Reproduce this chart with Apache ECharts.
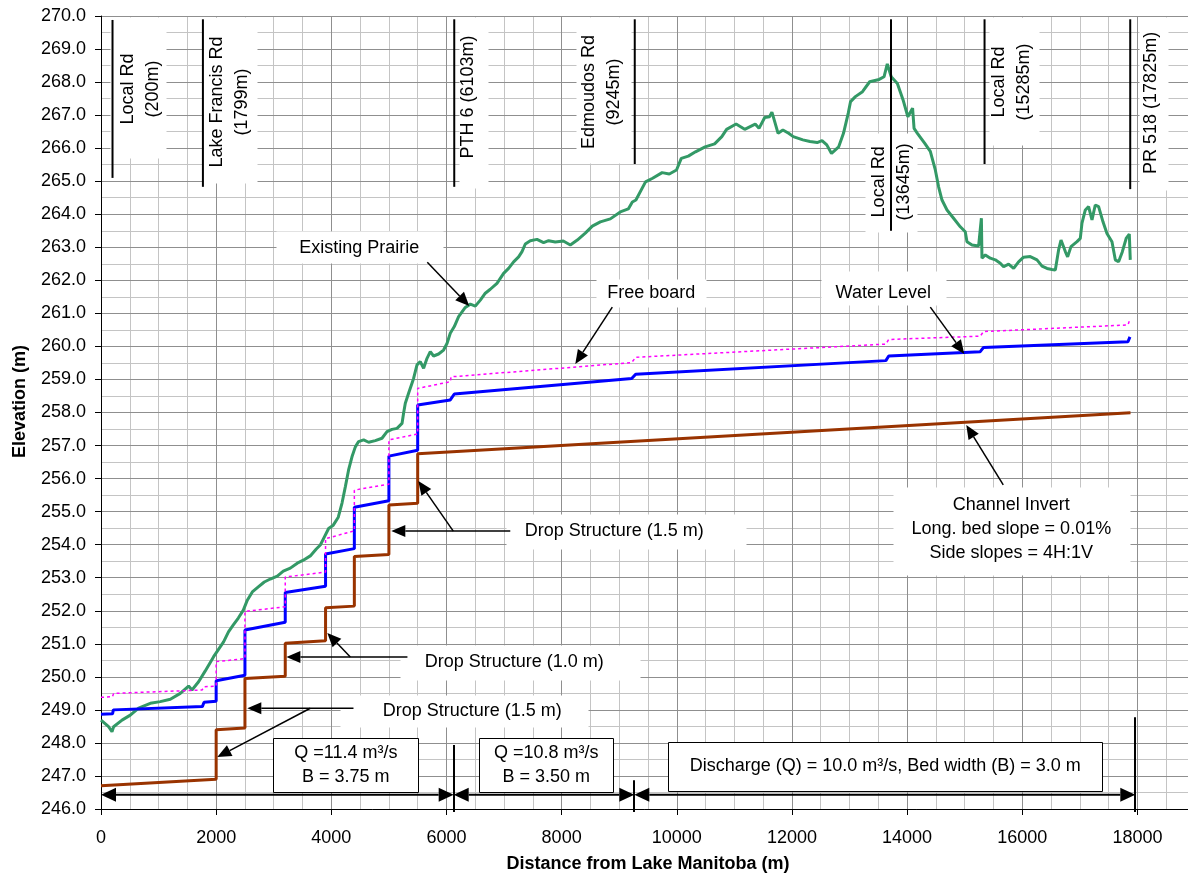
<!DOCTYPE html>
<html><head><meta charset="utf-8">
<script src="https://cdn.jsdelivr.net/npm/echarts@6/dist/echarts.min.js"></script>
<style>html,body{margin:0;padding:0;background:#fff}#c{width:1188px;height:877px}</style>
</head><body><div id="c"></div>
<script>
// ---------- data (distance m, elevation m) ----------
const prairie = [[0,248.69],[132,248.49],[191,248.34],[219,248.49],[365,248.69],[509,248.84],[653,249.05],[856,249.2],[1030,249.25],[1204,249.32],[1377,249.5],[1521,249.72],[1580,249.6],[1695,249.85],[1811,250.18],[1956,250.61],[2129,251.06],[2214,251.36],[2298,251.57],[2385,251.78],[2472,252.02],[2541,252.32],[2628,252.57],[2732,252.72],[2836,252.87],[2940,252.96],[3062,253.05],[3166,253.2],[3288,253.29],[3409,253.44],[3514,253.53],[3635,253.66],[3739,253.87],[3809,253.99],[3878,254.23],[3953,254.49],[4034,254.59],[4121,254.83],[4186,255.26],[4243,255.75],[4300,256.26],[4359,256.66],[4417,256.96],[4474,257.12],[4561,257.17],[4648,257.1],[4764,257.15],[4880,257.22],[4967,257.42],[5054,257.49],[5141,257.52],[5228,257.67],[5255,257.98],[5285,258.28],[5342,258.58],[5429,259.03],[5488,259.44],[5545,259.54],[5603,259.34],[5662,259.64],[5719,259.84],[5776,259.71],[5863,259.77],[5950,259.89],[6009,260.09],[6066,260.4],[6136,260.6],[6211,260.9],[6327,261.18],[6414,261.28],[6501,261.22],[6588,261.4],[6674,261.61],[6761,261.73],[6877,261.91],[6992,262.21],[7079,262.36],[7166,262.56],[7253,262.71],[7312,262.87],[7369,263.1],[7456,263.2],[7572,263.24],[7687,263.14],[7774,263.2],[7890,263.16],[8029,263.19],[8151,263.07],[8272,263.22],[8411,263.43],[8533,263.64],[8672,263.77],[8846,263.86],[9019,264.07],[9158,264.16],[9228,264.37],[9290,264.43],[9457,264.98],[9580,265.09],[9745,265.26],[9870,265.22],[9995,265.34],[10078,265.69],[10200,265.76],[10325,265.89],[10492,266.04],[10657,266.13],[10782,266.35],[10865,266.57],[11030,266.73],[11179,266.57],[11362,266.73],[11428,266.6],[11527,266.93],[11610,266.95],[11652,267.09],[11693,266.85],[11759,266.45],[11843,266.55],[11942,266.45],[12023,266.35],[12190,266.25],[12313,266.2],[12438,266.17],[12522,266.23],[12605,266.1],[12687,265.84],[12812,266.04],[12895,266.45],[12978,267.06],[13018,267.41],[13102,267.56],[13225,267.71],[13350,268.01],[13515,268.08],[13599,268.16],[13656,268.55],[13724,268.16],[13831,267.96],[13930,267.46],[14013,266.95],[14095,267.21],[14121,266.6],[14179,266.45],[14304,266.15],[14403,265.9],[14490,265.34],[14547,264.83],[14606,264.43],[14693,264.13],[14807,263.88],[14924,263.62],[15010,263.47],[15040,263.17],[15127,263.07],[15242,263.04],[15290,263.88],[15300,262.67],[15358,262.77],[15445,262.67],[15532,262.62],[15618,262.52],[15676,262.41],[15763,262.49],[15850,262.36],[15936,262.56],[16023,262.7],[16139,262.72],[16256,262.62],[16343,262.43],[16430,262.36],[16516,262.33],[16574,262.31],[16631,262.92],[16673,263.22],[16748,262.87],[16788,262.71],[16846,263.02],[16951,263.17],[17008,263.27],[17037,263.73],[17095,264.13],[17152,264.23],[17211,263.83],[17268,264.28],[17326,264.23],[17402,263.77],[17471,263.42],[17558,263.17],[17616,262.62],[17673,262.56],[17737,262.86],[17807,263.28],[17859,263.4],[17876,262.62]];
const channelInvert = [[0,246.7],[2000,246.9],[2000,248.4],[2500,248.45],[2500,249.95],[3200,250.02],[3200,251.02],[3900,251.09],[3900,252.09],[4400,252.14],[4400,253.64],[5000,253.7],[5000,255.2],[5500,255.25],[5500,256.75],[17880,257.99]];
const waterLevel = [[0,248.87],[200,248.88],[215,249.0],[1760,249.1],[1790,249.23],[2000,249.26],[2000,249.88],[2500,250.05],[2500,251.42],[3200,251.65],[3200,252.55],[3900,252.74],[3900,253.72],[4400,253.88],[4400,255.13],[5000,255.33],[5000,256.68],[5500,256.86],[5500,258.23],[6066,258.38],[6136,258.56],[9217,259.03],[9286,259.16],[13631,259.57],[13681,259.71],[15270,259.84],[15328,259.97],[17836,260.14],[17870,260.29]];
const freeBoard = [[0,249.38],[200,249.4],[219,249.5],[1754,249.6],[1790,249.7],[2000,249.72],[2000,250.46],[2500,250.55],[2500,251.98],[3200,252.12],[3200,253.02],[3900,253.17],[3900,254.18],[4400,254.42],[4400,255.65],[5000,255.83],[5000,257.17],[5500,257.35],[5500,258.73],[6066,258.93],[6080,259.08],[9217,259.51],[9286,259.67],[13631,260.07],[13681,260.21],[15270,260.31],[15328,260.45],[17836,260.65],[17870,260.82]];

// roads
const roadNames = ['Local Rd\n(200m)','Lake Francis Rd\n(1799m)','PTH 6 (6103m)','Edmoudos Rd\n(9245m)','Local Rd\n(13645m)','Local Rd\n(15285m)','PR 518 (17825m)'];
const roadX = [200,1770,6135,9270,13720,15345,17875];
const roadTop = [269.88,269.9,269.9,269.9,269.9,269.9,269.9];
const roadBottom = [265.1,264.83,264.83,265.52,263.5,265.52,264.76];
const roadLabelAt = [[685,267.79],[2228,267.4],[6379,267.55],[8689,267.7],[13724,264.98],[15809,268.0],[18241,267.37]];
const roadLabelBox = [[162,269.97,1134,265.7],[1777,269.97,2715,264.95],[6223,269.97,6726,264.79],[8255,269.97,9210,265.55],[13274,266.46,14177,263.46],[15427,269.97,16296,266.1],[18033,269.97,18537,264.73]];

// annotations: text, centre [m, elev], box [m1, e1, m2, e2], bordered
const noteTexts = ['Existing Prairie','Free board','Water Level','Channel Invert\nLong. bed slope = 0.01%\nSide slopes = 4H:1V','Drop Structure (1.5 m)','Drop Structure (1.0 m)','Drop Structure (1.5 m)','Q =11.4 m³/s\nB = 3.75 m','Q =10.8 m³/s\nB = 3.50 m','Discharge (Q) = 10.0 m³/s, Bed width (B) = 3.0 m'];
const noteAt = [[4486,262.98],[9557,261.62],[13586,261.62],[15810,254.48],[8915,254.41],[7177,250.45],[6449,248.96],[4252,247.33],[7734,247.33],[13621,247.29]];
const noteBox = [[3045,263.49,5947,262.52],[8602,262.04,10513,261.19],[12508,262.28,14682,261.25],[13761,255.74,17877,253.08],[7039,254.93,11207,253.87],[5198,250.96,9367,249.9],[4156,249.45,8463,248.48],[2993,248.15,5511,246.51],[6570,248.15,8897,246.51],[9852,248.03,17389,246.54]];
const noteBordered = [false,false,false,false,false,false,false,true,true,true];
// arrows: [from m, from elev, tip m, tip elev]
const noteArrows = [[5667,262.55,6396,261.22],[8880,261.19,8237,259.47],[14403,261.19,14993,259.77],[15670,255.81,15028,257.62],[7108,254.41,5042,254.41],[6118,254.41,5511,255.93],[5322,250.6,3220,250.6],[4330,250.6,3930,251.33],[4385,249.05,2541,249.05],[3635,249.05,2020,247.57]];
// bottom dimension lines
const dimY = 246.43;
const dimSpans = [[0,6125],[6125,9262],[9262,17963]];
const dimSeparators = [[6125,247.94],[9262,246.87],[17963,248.78]];
const dimSepBottom = 245.91;

const FONT = 'Liberation Sans, Arial, sans-serif';
const chart = echarts.init(document.getElementById('c'), null, {renderer:'canvas'});

const roadSeries = roadX.map((x,i)=>({
  type:'line', xAxisIndex:1, data:[[x,roadTop[i]],[x,roadBottom[i]]], symbol:'none', z:4,
  lineStyle:{color:'#000', width:2}, animation:false, silent:true
}));

const option = {
  animation:false,
  backgroundColor:'#fff',
  grid:{left:101, top:16, width:1094, height:793, outerBoundsMode:'none', containLabel:false},
  xAxis:[
    {type:'value', min:0, max:19000, interval:500, position:'bottom', z:0,
     axisLine:{show:false}, axisTick:{show:false}, axisLabel:{show:false},
     splitLine:{show:true, lineStyle:{color:'#c4c4c4', width:1}}},
    {type:'value', min:0, max:19000, interval:2000, position:'bottom', z:0.5,
     name:'Distance from Lake Manitoba (m)', nameLocation:'middle', nameGap:46,
     nameTextStyle:{fontFamily:FONT, fontSize:18, fontWeight:'bold', color:'#000'},
     axisLine:{show:true, onZero:false, lineStyle:{color:'#000', width:1}},
     axisTick:{show:true, inside:false, length:6, lineStyle:{color:'#000'}},
     axisLabel:{fontFamily:FONT, fontSize:18, color:'#000', margin:20, hideOverlap:false,
       formatter:v=> v>18000 ? '' : String(v)},
     splitLine:{show:true, lineStyle:{color:'#8f8f8f', width:1}}}
  ],
  yAxis:{type:'value', min:246, max:270, interval:1, z:0.5,
    name:'Elevation (m)', nameLocation:'middle', nameGap:72,
    nameTextStyle:{fontFamily:FONT, fontSize:18, fontWeight:'bold', color:'#000', padding:[0,0,0,22]},
    axisLine:{show:true, onZero:false, lineStyle:{color:'#000', width:1}},
    axisTick:{show:true, inside:false, length:6, lineStyle:{color:'#000'}},
    axisLabel:{fontFamily:FONT, fontSize:18, color:'#000', margin:15, formatter:v=>v.toFixed(1)},
    splitLine:{show:true, lineStyle:{color:'#8f8f8f', width:1}},
    minorTick:{show:false, splitNumber:2},
    minorSplitLine:{show:true, lineStyle:{color:'#c4c4c4', width:1}}},
  series:[
    {name:'Existing Prairie', type:'line', xAxisIndex:1, data:prairie, symbol:'none', z:2,
     lineStyle:{color:'#339966', width:3}, smooth:false},
    {name:'Channel Invert', type:'line', xAxisIndex:1, data:channelInvert, symbol:'none', z:2,
     lineStyle:{color:'#993300', width:3}},
    {name:'Water Level', type:'line', xAxisIndex:1, data:waterLevel, symbol:'none', z:2,
     lineStyle:{color:'#0000ff', width:3}},
    {name:'Free board', type:'line', xAxisIndex:1, data:freeBoard, symbol:'none', z:2,
     lineStyle:{color:'#ff00ff', width:1.5, type:[3,3]}}
  ].concat(roadSeries)
};
chart.setOption(option);

const P = (m,v)=>chart.convertToPixel({xAxisIndex:1, yAxisIndex:0}, [m,v]);
const g = [];
function addRect(b, stroke, z){
  const a=P(b[0],b[1]), c=P(b[2],b[3]);
  const x=Math.round(Math.min(a[0],c[0]))+0.5, y=Math.round(Math.min(a[1],c[1]))+0.5;
  const w=Math.round(Math.abs(c[0]-a[0])), h=Math.round(Math.abs(c[1]-a[1]));
  g.push({type:'rect', z, silent:true, shape:{x,y,width:w,height:h},
    style:{fill:'#fff', stroke: stroke ? '#000' : null, lineWidth: stroke ? 1 : 0}});
}
function addText(t, at, z, rot, lh){
  const p=P(at[0],at[1]);
  g.push({type:'text', z, silent:true, x:p[0], y:p[1], rotation:rot||0,
    style:{text:t, font:'18px '+FONT, fill:'#000', align:'center', verticalAlign:'middle',
      textAlign:'center', textVerticalAlign:'middle', lineHeight:lh||24}});
}
function addHead(tip, from, len, hw, z){
  const dx=tip[0]-from[0], dy=tip[1]-from[1], L=Math.hypot(dx,dy), ux=dx/L, uy=dy/L;
  const bx=tip[0]-ux*len, by=tip[1]-uy*len;
  g.push({type:'polygon', z, silent:true, shape:{points:[[tip[0],tip[1]],[bx-uy*hw,by+ux*hw],[bx+uy*hw,by-ux*hw]]}, style:{fill:'#000'}});
  return [bx,by];
}
function addLine(a,b,w,z){
  g.push({type:'line', z, silent:true, shape:{x1:a[0],y1:a[1],x2:b[0],y2:b[1]}, style:{stroke:'#000', lineWidth:w}});
}

// road label boxes and labels
roadLabelBox.forEach(b=>addRect(b,false,1));
roadNames.forEach((t,i)=>addText(t, roadLabelAt[i], 10, Math.PI/2, 25));

// annotation boxes and texts
noteBox.forEach((b,i)=>addRect(b,noteBordered[i],9));
noteTexts.forEach((t,i)=>addText(t, noteAt[i], 10, 0, 24));

// annotation arrows
noteArrows.forEach(a=>{
  const f=P(a[0],a[1]), t=P(a[2],a[3]);
  const base=addHead(t,f,14,6,11);
  addLine(f,base,1.5,11);
});

// dimension lines
dimSpans.forEach(s=>{
  const a=P(s[0],dimY), b=P(s[1],dimY);
  const ba=addHead(a,b,15,7,11), bb=addHead(b,a,15,7,11);
  addLine(ba,bb,2,11);
});
dimSeparators.forEach(s=>{
  const a=P(s[0],s[1]), b=P(s[0],dimSepBottom);
  addLine([Math.round(a[0]),a[1]],[Math.round(b[0]),b[1]],2,11);
});

chart.setOption({graphic:{elements:g}});
</script>
</body></html>
